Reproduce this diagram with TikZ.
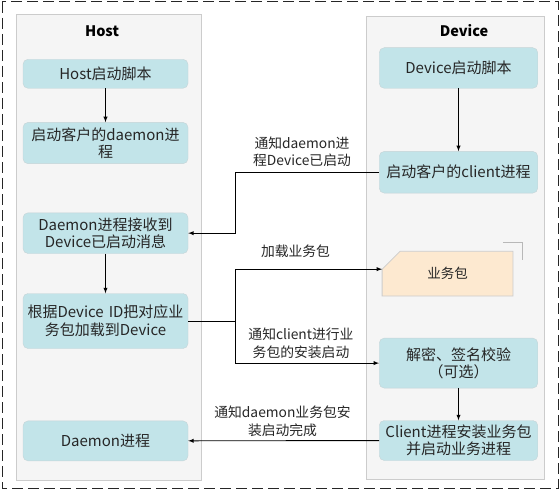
\documentclass[tikz,border=0pt]{standalone}
\usepackage{fontspec}
\newfontfamily\cjkfont{Noto Sans CJK SC}
\usepackage{xcolor}
\usepackage{tikz}
\usetikzlibrary{positioning}
\usetikzlibrary{arrows.meta}

\definecolor{boxfill}{RGB}{194,228,233}
\definecolor{boxline}{RGB}{198,212,215}
\definecolor{panelfill}{RGB}{245,245,245}
\definecolor{panelline}{RGB}{204,204,204}
\definecolor{pkgfill}{RGB}{253,233,208}
\definecolor{txt}{RGB}{38,38,38}

\begin{document}
\begin{tikzpicture}[
    x=1pt, y=-1pt,
    font=\cjkfont\fontsize{15}{17.5}\selectfont,
    text=txt,
    mynode/.style={draw=boxline,fill=boxfill,rounded corners=5pt,minimum width=165pt,minimum height=40pt,text width=162pt,inner sep=1pt,align=center},
    devnode/.style={mynode,minimum width=158.5pt,text width=156pt},
    mypanel/.style={draw=panelline,fill=panelfill,line width=0.8pt},
    paneltitle/.style={font=\cjkfont\bfseries\fontsize{14.5}{17}\selectfont,text=black},
    msg/.style={font=\cjkfont\fontsize{13.8}{17.5}\selectfont,align=center,inner sep=0pt},
    arr/.style={-latex,line width=0.9pt,draw=black}
    ]

    \useasboundingbox (0,0) rectangle (559,489);
    \draw[dash pattern=on 11pt off 5pt,line width=1pt,black!85] (2,2) rectangle (558,488);

    % the two columns
    \node[mypanel,minimum width=185.7pt,minimum height=465.7pt] (hostpanel) at (108.85,247.15) {};
    \node[mypanel,minimum width=178.3pt,minimum height=463.3pt] (devpanel) at (455.15,247.65) {};
    \node[paneltitle] (hosttitle) at (102,31) {Host};
    \node[paneltitle] (devtitle) at (464,31) {Device};

    \node[mynode,minimum height=29pt] (host1) at (105.5,73.8) {Host启动脚本};
    \node[mynode,minimum height=41.3pt,below=33.7pt of host1] (host2) {启动客户的daemon进\\程};
    \node[mynode,minimum height=40.7pt,below=48.7pt of host2] (host3) {Daemon进程接收到\\Device已启动消息};
    \node[mynode,minimum height=55pt,below=39.6pt of host3] (host4) {根据Device~ID把对应业\\务包加载到Device};
    \node[mynode,minimum height=40pt,below=72pt of host4] (host5) {Daemon进程};

    \node[devnode,minimum height=40.6pt] (dev1) at (458.5,68) {Device启动脚本};
    \node[devnode,minimum height=41.7pt,below=62.7pt of dev1] (dev2) {启动客户的client进程};
    \node[devnode,minimum height=50pt,below=144.6pt of dev2] (dev4) {解密、签名校验\\（可选）};
    \node[devnode,minimum height=40pt,below=32pt of dev4] (dev5) {Client进程安装业务包\\并启动业务进程};

    % package with folded corner
    \node[minimum width=130.4pt,minimum height=44.3pt,inner sep=0pt,below=58pt of dev2,xshift=-11pt] (pkg) {};
    \draw[panelline!90!black,line width=0.8pt] ([xshift=-10pt,yshift=8.5pt]pkg.north east) -- ([xshift=9pt,yshift=8.5pt]pkg.north east) -- ([xshift=9pt,yshift=-8.3pt]pkg.north east);
    \draw[draw=panelline,fill=pkgfill,line width=0.8pt] ([xshift=18pt]pkg.north west) -- (pkg.north east) -- (pkg.south east) -- (pkg.south west) -- ([yshift=-18pt]pkg.north west) -- cycle;
    \node[font=\cjkfont\fontsize{13.5}{17}\selectfont] (pkgname) at (pkg.center) {业务包};

    \node[msg] (msg1) at (302,152) {通知daemon进\\程Device已启动};
    \node[msg] (msg2) at (295.5,251) {加载业务包};
    \node[msg] (msg3) at (301,343.5) {通知client进行业\\务包的安装启动};
    \node[msg] (msg4) at (282.5,421.5) {通知daemon业务包安\\装启动完成};

    \coordinate (busx) at (235.5,0);
    \coordinate (split) at (host4.east -| busx);

    \path (host1) edge[arr] (host2)
    (host3) edge[arr] (host4)
    (dev1) edge[arr] (dev2)
    (dev4) edge[arr] (dev5)
    (dev5) edge[arr] (host5)
    ;
    \draw[arr] (dev2.west) -- (dev2.west -| busx) |- (host3.east);
    \draw[line width=0.9pt] (host4.east) -- (split);
    \draw[arr] (split) |- ([yshift=4.5pt]pkg.west);
    \draw[arr] (split) |- (dev4.west);
  \end{tikzpicture}
\end{document}
